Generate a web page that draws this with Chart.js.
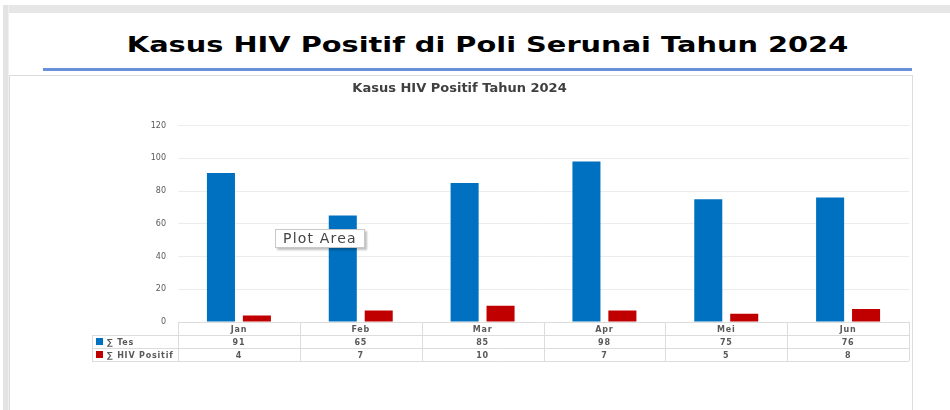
<!DOCTYPE html>
<html>
<head>
<meta charset="utf-8">
<script src="https://cdn.jsdelivr.net/npm/chart.js@4.4.0/dist/chart.umd.min.js"></script>
<style>
  body { margin: 0; width: 950px; height: 410px; overflow: hidden; background: #fff; position: relative; font-family: Lato, sans-serif; }
  #topband { position: absolute; left: 3px; top: 5px; width: 947px; height: 8px; background: #e6e6e6; }
  #leftband { position: absolute; left: 3px; top: 5px; width: 5px; height: 405px; background: #e3e3e3; border-right: 1px solid #f0f0f0; }
  #title { position: absolute; left: 0; top: 34px; width: 975px; text-align: center; font: bold 22px/22px "DejaVu Sans", sans-serif; color: #000;
           transform: scaleX(1.31); }
  #rule { position: absolute; left: 43px; top: 68px; width: 869px; height: 3px; background: #6a8fdb; }
  #box { position: absolute; left: 9px; top: 75px; width: 904px; height: 345px; border: 1px solid #dcdcdc; box-sizing: border-box; }
  #box canvas { position: absolute; left: 0; top: 0; }
  #tip { position: absolute; left: 275px; top: 229px; padding: 0 7px 1px 7px; border: 1px solid #c8c8c8; background: #fff; letter-spacing: 1.2px;
         box-shadow: 2px 2px 2px rgba(0,0,0,0.25); font: 14px "DejaVu Sans", sans-serif; color: #444; }
</style>
</head>
<body>
<div id="topband"></div>
<div id="leftband"></div>
<div id="title">Kasus HIV Positif di Poli Serunai Tahun 2024</div>
<div id="rule"></div>
<div id="box"><canvas id="myChart" width="902" height="343"></canvas></div>
<div id="tip">Plot Area</div>
<script>
var months = ['Jan', 'Feb', 'Mar', 'Apr', 'Mei', 'Jun'];
var tesValues = [91, 65, 85, 98, 75, 76];
var hivValues = [4, 7, 10, 7, 5, 8];
var seriesNames = ['\u2211 Tes', '\u2211 HIV Positif'];
var yTicks = [0, 20, 40, 60, 80, 100, 120];

// data table under the bars, like excel
var dataTable = {
  id: 'dataTable',
  afterDraw: function(chart) {
    var ctx = chart.ctx;
    var area = chart.chartArea;
    var x = chart.scales.x;
    var rowH = 13;
    var colW = (area.right - area.left) / months.length;
    var top = area.bottom;
    var legLeft = 82;
    ctx.save();
    ctx.strokeStyle = '#dcdcdc';
    ctx.lineWidth = 1;
    ctx.beginPath();
    // horizontal lines
    ctx.moveTo(area.left, top + 0.5); ctx.lineTo(area.right, top + 0.5);
    for (var r = 1; r <= 3; r++) {
      ctx.moveTo(legLeft, top + r * rowH + 0.5); ctx.lineTo(area.right, top + r * rowH + 0.5);
    }
    // vertical lines
    for (var c = 0; c <= months.length; c++) {
      var cx = Math.round(area.left + c * colW) + 0.5;
      ctx.moveTo(cx, top); ctx.lineTo(cx, top + 3 * rowH);
    }
    ctx.moveTo(legLeft + 0.5, top + rowH); ctx.lineTo(legLeft + 0.5, top + 3 * rowH);
    ctx.stroke();

    ctx.fillStyle = '#595959';
    ctx.font = 'bold 8px "DejaVu Sans", sans-serif';
    ctx.letterSpacing = '0.8px';
    ctx.textAlign = 'center';
    ctx.textBaseline = 'middle';
    var rows = [tesValues, hivValues];
    for (var i = 0; i < months.length; i++) {
      var px = x.getPixelForValue(i);
      ctx.fillText(months[i], px, top + rowH / 2 + 1);
      ctx.fillText(rows[0][i], px, top + rowH * 1.5 + 1);
      ctx.fillText(rows[1][i], px, top + rowH * 2.5 + 1);
    }
    // legend keys
    ctx.textAlign = 'left';
    var colors = ['#0070C0', '#C00000'];
    for (var k = 0; k < 2; k++) {
      var ry = top + rowH * (k + 1);
      ctx.fillStyle = colors[k];
      ctx.fillRect(legLeft + 4, ry + 3, 7, 7);
      ctx.fillStyle = '#595959';
      ctx.fillText(seriesNames[k], legLeft + 15, ry + rowH / 2 + 1);
    }
    ctx.restore();
  }
};

var ctx = document.getElementById('myChart').getContext('2d');
var chart = new Chart(ctx, {
  type: 'bar',
  data: {
    labels: months,
    datasets: [{
      label: seriesNames[0],
      data: tesValues,
      backgroundColor: '#0070C0',
      categoryPercentage: 0.59,
      barPercentage: 0.78
    }, {
      label: seriesNames[1],
      data: hivValues,
      backgroundColor: '#C00000',
      categoryPercentage: 0.59,
      barPercentage: 0.78
    }]
  },
  options: {
    responsive: false,
    animation: false,
    layout: { padding: { left: 0, right: 3, top: 0, bottom: 97 } },
    plugins: {
      legend: { display: false },
      tooltip: { enabled: false },
      title: {
        display: true,
        text: 'Kasus HIV Positif Tahun 2024',
        color: '#404040',
        font: { family: '"DejaVu Sans", sans-serif', size: 13, weight: 'bold' },
        padding: { top: 5, bottom: 29 }
      }
    },
    scales: {
      x: { display: false },
      y: {
        min: 0,
        max: 120,
        afterFit: function(scale) { scale.width = 168; },
        afterBuildTicks: function(scale) { scale.ticks = yTicks.map(function(v) { return { value: v }; }); },
        border: { display: false },
        grid: { color: '#ececec', drawTicks: false },
        ticks: { color: '#595959', padding: 12, font: { family: '"DejaVu Sans", sans-serif', size: 8 } }
      }
    }
  },
  plugins: [dataTable]
});
</script>
</body>
</html>
